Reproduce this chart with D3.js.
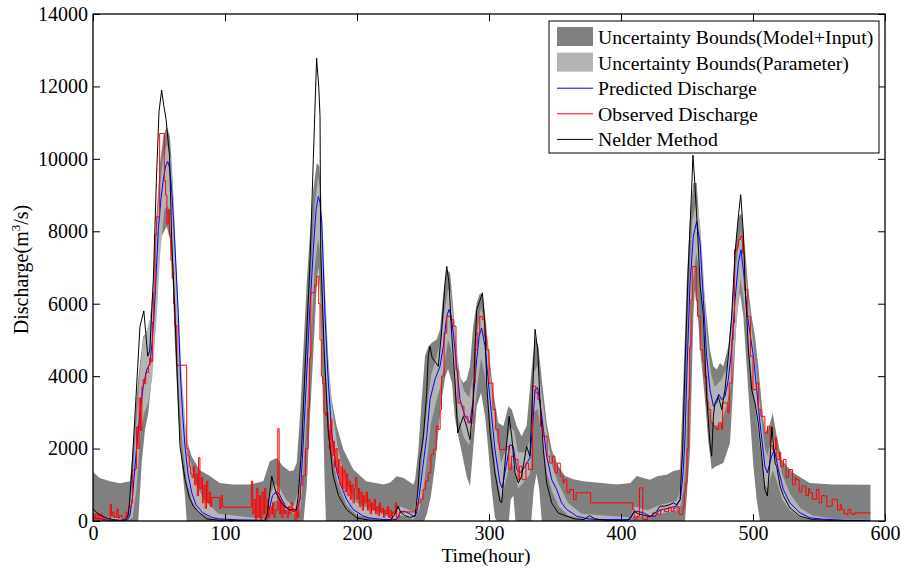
<!DOCTYPE html>
<html>
<head>
<meta charset="utf-8">
<script src="https://cdn.jsdelivr.net/npm/d3@7"></script>
<style>
  body { margin: 0; background: #fff; }
  svg { display: block; font-family: "Liberation Serif", "Times New Roman", serif; }
</style>
</head>
<body>
<svg id="chart" width="901" height="570"></svg>
<script>
// tick labels
const xTicks = [0, 100, 200, 300, 400, 500, 600]
const yTicks = [0, 2000, 4000, 6000, 8000, 10000, 12000, 14000]

// Uncertainty bounds (Model+Input), [hour, m3/s]
const outerHi = [[0,1350],[5,1190],[13,1100],[20.5,1040],[28,1100],[30.5,2065],[33,3445],[35.6,4365],[38.1,5100],[40.6,5190],[43.2,5560],[45.7,6665],[48.2,8505],[50.8,9885],[53.3,10620],[55.8,10900],[58.3,10620],[60.3,9425],[62.1,7585],[63.9,5745],[65.9,4365],[68.4,2985],[71,2250],[74.7,1790],[81,1400],[88.6,1240],[96,1050],[106,1007],[119,1007],[129,1100],[134,1650],[139,1743],[144,1513],[149,1375],[152,1400],[154.3,1605],[156.8,2893],[159.4,4733],[161.9,6573],[164.4,7953],[166.9,9149],[169.5,9885],[171.5,9793],[173.2,8413],[175.8,6113],[178.3,4273],[180.8,3353],[184.6,2617],[189.7,1973],[197.2,1420],[207,1100],[220,1007],[225,1053],[230,1237],[235,1191],[242.7,1007],[244,1140],[246.5,1970],[249,3350],[251.5,4550],[254,4820],[256.6,4920],[260.4,5010],[262.9,5290],[265.4,6300],[268,6940],[270.5,6850],[273,5840],[275.5,4730],[278,3990],[280.6,3810],[283,3900],[285.6,4270],[288,5380],[290.7,6020],[293.2,6300],[295.7,6110],[298.2,5290],[300.8,4370],[303.3,3540],[307,2710],[310.9,2620],[314.7,3170],[317.2,3080],[321,2620],[324.7,2340],[328.5,2620],[332.3,4180],[334.9,5100],[337.4,4820],[340,3900],[343.7,2710],[347.5,1970],[352.5,1510],[357.6,1240],[364,1150],[371.5,1100],[396.7,1010],[407,1050],[412,1240],[417,1190],[422,1140],[428,1240],[434.6,1280],[439.7,1380],[444.7,1420],[447.2,3810],[449.8,6570],[452.3,8410],[454.8,9330],[457.3,9330],[460,7950],[462.4,6570],[464.9,5650],[467.4,4730],[470,4270],[472.5,4180],[475,4360],[477.5,4270],[481.3,4820],[483.8,5650],[486.4,7490],[488.9,8410],[491.4,8500],[494,7490],[496.5,6390],[499,5650],[501.5,5100],[504,4270],[506.6,3260],[509,2430],[512.4,2620],[514.9,2980],[518,2340],[521.7,1700],[526,1500],[530.5,1330],[543,1050],[560,1010],[589,1000]]
const outerLo = [[0,0],[34.3,0],[36.9,1600],[39.4,2525],[41.9,2985],[44.4,3905],[47,5745],[49.5,7125],[52,7860],[55.8,8135],[58.3,7770],[60.3,6665],[62.1,4825],[64.6,2985],[67.2,1605],[69.7,685],[71,0],[159.5,0],[162,1000],[164.4,2900],[167,4700],[169.5,6500],[170.7,7000],[172,6300],[174,3500],[175.5,1000],[176.5,0],[251,0],[253,200],[256,700],[259,1500],[262,2600],[264,3350],[267,4000],[269,4200],[272,3800],[274,2900],[277,2300],[279,1970],[283,1240],[285.6,960],[288,1970],[290.7,3170],[294,3540],[297,2890],[299.5,1970],[302,870],[304.5,100],[306,0],[315,0],[316.5,600],[318.5,700],[320,0],[332,0],[334,900],[336,1300],[338,900],[340,0],[448.5,0],[452.3,1970],[454.8,5650],[456,6390],[458,5800],[460,4730],[463.6,3350],[466,2250],[468.7,1420],[472,1510],[477.5,1600],[482.6,2160],[485.1,3810],[487.6,5650],[490.2,6300],[492.7,5650],[495.2,4270],[497.7,2890],[500.3,1510],[502.8,590],[505.3,0],[589,0]]

// Uncertainty bounds (Parameter)
const parHi = [[0,150],[26,50],[29,700],[32,2200],[35,3900],[38,5000],[41,5300],[44,5700],[47,7200],[50,9000],[53,10000],[56,10400],[59,10000],[61,9000],[63,7200],[65,5600],[67,4200],[70,2700],[73,1800],[77,1100],[84,600],[95,200],[130,60],[134,700],[137,1000],[141,950],[146,600],[152,400],[156,900],[159,2600],[162,4600],[165,6800],[168,8700],[170.5,9500],[173,9000],[175.5,6700],[178,4700],[181,3200],[185,2100],[192,1000],[200,500],[225,100],[233,400],[243,250],[247,900],[250,2000],[253,3100],[256,4000],[260,4500],[263,4900],[266,5700],[269,6400],[271,6300],[274,5300],[277,4200],[281,3600],[285,3400],[288,4000],[291,5200],[294,5900],[297,5400],[301,4000],[305,2600],[309,1600],[312,1900],[316,2600],[319,2500],[322,1900],[327,1900],[331,2200],[334,4100],[337,4300],[340,3500],[344,2400],[348,1500],[353,1000],[360,500],[370,200],[407,100],[410,400],[420,300],[430,450],[442,550],[445,900],[447,1900],[449,3600],[451,6000],[454,8300],[457,8800],[460,8200],[462.5,6800],[465,5200],[468,4100],[471,3700],[476,3900],[480,4200],[484,5400],[487,7000],[490.5,8000],[493,7300],[496,6300],[499,5300],[502,4300],[505,3300],[509,2000],[511,1800],[515,2400],[518,2000],[522,1300],[528,750],[536,350],[545,150],[560,60],[589,30]]
const parLo = [[0,50],[26,0],[30,100],[33,900],[36,2500],[39,3000],[42,3300],[45,4000],[48,5500],[51,7400],[54,8600],[57,8700],[60,7600],[62,6200],[64,4400],[66,3000],[68,2000],[71,1100],[75,550],[80,250],[90,60],[130,0],[134,250],[137,550],[141,550],[146,300],[152,200],[157,300],[159,1200],[162,3000],[165,5000],[168,7000],[170.5,7800],[173,7200],[175.5,4700],[178,3000],[181,1900],[185,1100],[192,450],[200,150],[225,0],[233,150],[243,50],[247,300],[250,800],[253,1700],[256,2700],[260,3300],[263,3700],[266,4300],[269,5000],[271,4800],[274,4000],[277,2800],[281,2300],[285,2100],[288,2700],[291,3700],[294,4500],[297,4000],[301,2800],[305,1400],[309,600],[312,1000],[316,1600],[319,1500],[322,900],[327,1100],[331,1300],[334,3000],[337,3100],[340,2300],[344,1300],[348,800],[353,400],[360,150],[370,50],[407,0],[410,150],[420,100],[430,200],[442,300],[445,400],[447,800],[449,1500],[451,3500],[454,6500],[457,7400],[460,6800],[462.5,5300],[465,3800],[468,2800],[471,2600],[476,2700],[480,3200],[484,3900],[487,5200],[490.5,6700],[493,6100],[496,5000],[499,4000],[502,3000],[505,2100],[509,1000],[511,900],[515,1400],[518,1100],[522,600],[528,300],[536,100],[545,30],[560,0],[589,0]]

// Predicted discharge
const predicted = [[0,100],[5,60],[10,30],[15,15],[20,10],[26,20],[28,150],[30,700],[31,1150],[33,2000],[35.6,2990],[38,3700],[40.7,4180],[43,4330],[45,5000],[47,6200],[49.5,8050],[51.5,8900],[53.3,9430],[55,9800],[56.6,9930],[58,9750],[59.6,9150],[61,8300],[62.1,7580],[64.6,5750],[66.4,3900],[68,2900],[69.7,2060],[72,1300],[74.8,780],[78,450],[83,230],[90,100],[95,60],[110,30],[130,20],[132,100],[134,400],[136,700],[138,780],[141,760],[143,600],[146,400],[150,300],[153,250],[155,350],[156.8,600],[159,1970],[161.6,3820],[164,5650],[166.9,7490],[169,8600],[170.7,8960],[172,8800],[173.3,8240],[175.8,5650],[178.3,3820],[180.8,2440],[184,1500],[187,1060],[192,600],[197,320],[205,130],[210,80],[220,40],[230,40],[233,250],[236,270],[240,200],[243,130],[245,200],[246.5,500],[249,1240],[252.8,2340],[255.3,3350],[259,3900],[262.9,4270],[265.4,4825],[268,5650],[269.7,5840],[271,5700],[273,5190],[275.5,4270],[278,3350],[281.8,2890],[285.6,2710],[288,3350],[290.7,4460],[292.5,5100],[294.4,5330],[297,4825],[300.8,3350],[304.5,1970],[308.3,1050],[310,915],[313.4,1600],[315.9,2110],[318.4,2060],[321,1420],[323.5,1330],[327.3,1510],[331,1740],[333,2600],[334.9,3630],[336.9,3680],[340,2890],[343.7,1790],[347.5,1140],[351.3,870],[355,500],[358.9,320],[366.5,130],[375,60],[384,40],[407,40],[409.4,225],[412,270],[417,225],[422,130],[426,130],[428,270],[432,320],[437,360],[442,410],[445,600],[447,1300],[448.5,2300],[450,4200],[452.3,6570],[454.8,7860],[457.3,8270],[459.9,7680],[462.4,6110],[464.9,4550],[467.4,3630],[470,3170],[472.5,3260],[474,3500],[475,3440],[476.3,3350],[478.8,3440],[481.3,3900],[483.8,4730],[486.4,6110],[488.9,7130],[490.9,7490],[493.2,6760],[495.2,5840],[497.7,5190],[500.3,4550],[502.8,3630],[505.3,2710],[509,1510],[510.9,1330],[514.1,1790],[516.2,1970],[519.2,1420],[523,870],[528,500],[535.6,225],[543,90],[553,50],[570,20],[589,10]]

// Observed discharge (stepped record)
const observed = [[0,150],[1,50],[2,200],[3,0],[4,180],[5,60],[6,200],[7,20],[8,100],[9,60],[11,30],[13,450],[14,150],[15,250],[16,100],[18,330],[19,80],[20,150],[22,40],[24,80],[25,250],[26,120],[27,400],[28,380],[29,500],[30,1400],[32,1450],[33,2600],[34,2000],[35,3400],[36,2500],[37,3700],[38,3900],[39,3800],[40,4100],[42,4300],[43,4500],[44,4400],[45,5500],[46,6300],[47,7900],[48,8400],[50.5,10700],[54,9400],[55,9000],[56,8200],[57,8600],[58,7900],[59,7200],[60,6700],[61,6000],[62,5400],[63.5,4300],[71,2000],[72,1800],[73,1500],[74,1300],[75,1200],[76,1500],[77,1000],[78,1300],[79,700],[80,1750],[81,900],[82,1200],[83,500],[84,1000],[85,350],[86,1100],[87,500],[88,800],[89,400],[90,650],[96,350],[97,700],[98,400],[99,380],[120,1100],[121,200],[122,600],[123,0],[124,900],[125,100],[126,700],[127,0],[128,800],[129,200],[130,900],[131,0],[132,600],[133,100],[134,400],[135,200],[136,500],[137,100],[138,300],[140,2550],[141,200],[142,600],[143,100],[144,500],[145,200],[146,300],[147,100],[148,400],[149,200],[150,500],[151,250],[152,300],[153,0],[154,400],[155,100],[156,600],[157,1000],[159,1250],[161,2000],[163,3100],[164,4500],[165,6300],[168,6500],[169.5,6760],[171,6000],[172,5000],[173,4000],[174,3800],[175,3000],[176,2900],[177,3000],[178,2500],[179,2000],[180,2800],[181,1800],[182,2200],[183,1500],[184,2000],[185,1300],[186,1700],[187,1000],[188,1500],[189,900],[190,1400],[191,800],[192,1300],[193,700],[194,1100],[195,600],[196,1000],[197,500],[198,900],[199,1200],[200,600],[201,900],[202,400],[203,800],[204,300],[205,700],[206,500],[207,800],[208,300],[209,600],[210,200],[211,500],[212,300],[213,600],[214,200],[215,400],[216,150],[217,500],[218,250],[219,350],[220,100],[221,300],[222,200],[223,400],[224,100],[225,300],[226,0],[227,250],[228,200],[229,500],[230,100],[232,250],[244,320],[246,500],[248,600],[250,870],[252,1100],[254,1330],[256,1840],[258,1970],[260,2620],[261.5,2530],[263,3080],[264,4000],[266,5190],[268,5650],[271,5560],[273,5380],[275,4180],[276.5,3260],[279,3170],[281,2890],[284,2710],[288,3810],[289.5,4730],[291,5190],[293,5650],[295,5560],[296.5,5100],[298,4730],[300,3810],[303,3080],[305,2530],[307,2160],[308,1970],[313,2060],[315,1420],[317,1790],[319,1700],[322,1140],[323,1510],[325,1140],[328,1600],[330,1420],[333,3720],[335.5,3540],[337,3350],[339,2620],[341,2340],[344,1790],[346,1600],[348,1790],[350,1330],[352,1600],[354,1240],[356,1050],[357,1140],[359,780],[361,870],[364,590],[366,780],[377,500],[409,320],[410,40],[412,130],[414,915],[416.5,40],[420,130],[424,225],[428,180],[430,320],[433,260],[436,380],[438,270],[440,360],[443,400],[444,180],[447,410],[448,780],[449,1050],[450,2000],[451,3350],[452,4800],[453,6110],[454,7030],[457,6110],[458,5650],[460,4730],[462,4400],[463,4000],[465,3300],[466,3080],[468,2710],[470,2620],[472,2530],[474,2710],[476,2530],[477,3260],[480,3260],[481,2985],[482,3810],[484,5000],[485,5470],[486,7490],[488,7590],[489,7770],[490.5,7860],[492,7400],[493.5,6390],[496,5650],[498,4550],[500,3630],[502.5,3810],[504,3080],[506,2890],[509,2430],[511,2620],[513,2070],[515,1970],[517,2300],[518,1700],[520,1900],[521,1500],[523,1700],[525,1200],[527,1420],[530,1000],[532,1200],[533,1140],[535,800],[537,960],[540,700],[542,900],[543,780],[545,600],[548,870],[550,500],[552,700],[554,690],[556,400],[558,410],[560,600],[562,590],[564,300],[566,450],[567,320],[569,200],[571,180],[572,320],[574,200],[576,180],[577,225],[589,225]]

// Nelder method
const nelder = [[0,330],[3,230],[6,150],[10,90],[15,40],[20,20],[25,30],[27,200],[29.3,1340],[32.6,3445],[35.6,5380],[38.5,5800],[41.5,4550],[43,4700],[45.7,6660],[48,9400],[50,11300],[52,11900],[53.5,11500],[55.4,11080],[58,10070],[59.6,7800],[62,5750],[63.9,3900],[65.9,2060],[69.7,1150],[73,650],[76,410],[80,250],[86,60],[95,20],[130,10],[132,200],[134,800],[135.4,1240],[137,1000],[139,750],[142,550],[145,400],[149,300],[152,330],[154,300],[155.5,700],[158,1970],[160.6,4180],[164.4,7130],[166.9,9980],[169.4,12780],[171,12000],[172,11170],[172.5,7500],[175,4800],[178.3,2440],[182,1240],[186,700],[192,320],[200,80],[210,20],[225,10],[229,200],[231,410],[233,250],[236,150],[240,100],[244,130],[246,800],[247.7,1700],[250.3,2340],[252.8,3540],[254,4550],[255.3,4825],[257,4500],[259,4410],[261.6,4270],[264,5190],[266.7,6570],[268,7030],[269.7,6570],[271.7,5190],[274.3,3810],[276.3,2430],[278.8,2710],[280.6,2890],[283,2620],[285.6,2250],[288,3260],[289.4,4730],[290.7,5840],[293,6070],[295,6300],[297,5380],[298.2,3810],[300.8,2430],[304.5,1330],[308.3,550],[309.6,500],[312.1,1600],[315.2,2890],[317.2,2340],[319.7,1330],[322.2,1050],[324.7,1240],[328.5,2060],[331,1790],[332.8,3350],[334.9,5290],[336.9,4730],[338.6,3350],[341.2,1970],[343.7,1050],[347.5,500],[352.5,220],[357.6,150],[365,60],[372,40],[376,150],[380,60],[390,10],[405,10],[408,150],[410,270],[413,200],[418,150],[422,120],[425,200],[427,270],[429.6,410],[433,410],[437,450],[439.7,500],[442,450],[444.7,590],[446.7,1970],[448.5,4270],[451,7030],[453.5,9150],[454.5,10100],[456,9300],[458,8000],[460,6500],[462.4,5650],[464.9,3440],[467.4,2150],[468.7,1790],[470,2890],[471.2,3260],[473.7,3440],[475,3260],[476.3,3080],[478.8,3630],[481.3,4550],[483.8,5650],[486.4,7400],[488.9,8410],[490.7,9010],[492.7,7950],[494,6570],[496.5,4730],[499,3630],[501.5,3260],[504,2710],[506.6,1790],[509,870],[510.9,690],[512.9,1700],[514.3,2600],[516.7,1600],[518,1500],[520.5,960],[523,700],[528,360],[535.6,130],[545,40],[560,10],[585,0]]

const legendLabels = ["Uncertainty Bounds(Model+Input)", "Uncertainty Bounds(Parameter)", "Predicted Discharge", "Observed Discharge", "Nelder Method"]

const margin = {top: 14, right: 16, bottom: 49, left: 93}
const width = 901 - margin.left - margin.right
const height = 570 - margin.top - margin.bottom

const svg = d3.select('#chart')
const g = svg.append("g").attr("transform", "translate(" + margin.left + "," + margin.top + ")")

const x = d3.scaleLinear().domain([0, 600]).range([0, width])
const y = d3.scaleLinear().domain([0, 14000]).range([height, 0])

g.append("clipPath").attr("id", "plotclip")
  .append("rect").attr("width", width).attr("height", height)

const plot = g.append("g").attr("clip-path", "url(#plotclip)")

const line = d3.line().x(function(d) { return x(d[0]) }).y(function(d) { return y(d[1]) })

// band = upper edge forward, lower edge back
function band(hi, lo) {
  return line(hi.concat(lo.slice().reverse())) + "Z"
}

plot.append("path").attr("d", band(outerHi, outerLo)).attr("fill", "#808080")
plot.append("path").attr("d", band(parHi, parLo)).attr("fill", "#b4b4b4")

plot.append("path").datum(predicted)
  .attr("d", line).attr("fill", "none").attr("stroke", "#0000ff").attr("stroke-width", 1)

plot.append("path").datum(observed)
  .attr("d", d3.line().curve(d3.curveStepAfter).x(function(d) { return x(d[0]) }).y(function(d) { return y(d[1]) }))
  .attr("fill", "none").attr("stroke", "#ff0000").attr("stroke-width", 1)

plot.append("path").datum(nelder)
  .attr("d", line).attr("fill", "none").attr("stroke", "#000").attr("stroke-width", 1)

// axes, ticks pointing in on all four sides
function styleAxis(sel) {
  sel.select(".domain").remove()
  sel.selectAll(".tick line").attr("stroke", "#000")
  sel.selectAll("text").attr("font-size", "20px").attr("fill", "#000")
    .attr("font-family", "'Liberation Serif', 'Times New Roman', serif")
}

g.append("g").attr("transform", "translate(0," + height + ")")
  .call(d3.axisBottom(x).tickValues(xTicks).tickFormat(d3.format("d")).tickSizeInner(-7).tickSizeOuter(0).tickPadding(5))
  .call(styleAxis)

g.append("g")
  .call(d3.axisLeft(y).tickValues(yTicks).tickFormat(d3.format("d")).tickSizeInner(-7).tickSizeOuter(0).tickPadding(5))
  .call(styleAxis)

g.append("g")
  .call(d3.axisTop(x).tickValues(xTicks).tickFormat("").tickSizeInner(-7).tickSizeOuter(0))
  .call(styleAxis)

g.append("g").attr("transform", "translate(" + width + ",0)")
  .call(d3.axisRight(y).tickValues(yTicks).tickFormat("").tickSizeInner(-7).tickSizeOuter(0))
  .call(styleAxis)

g.append("rect").attr("width", width).attr("height", height)
  .attr("fill", "none").attr("stroke", "#000").attr("stroke-width", 1.3)

// axis titles
g.append("text")
  .attr("x", width / 2 - 3).attr("y", height + 41)
  .attr("text-anchor", "middle").attr("font-size", "19.5px")
  .text("Time(hour)")

const yl = g.append("text")
  .attr("transform", "translate(-65," + (height / 2 + 2) + ") rotate(-90)")
  .attr("text-anchor", "middle").attr("font-size", "20px")
yl.append("tspan").text("Discharge(m")
yl.append("tspan").attr("dy", -8).attr("font-size", "13px").text("3")
yl.append("tspan").attr("dy", 8).text("/s)")

// legend
const lg = svg.append("g").attr("transform", "translate(549,21)")
lg.append("rect").attr("width", 330).attr("height", 132)
  .attr("fill", "#fff").attr("stroke", "#000").attr("stroke-width", 1)

const rowY = function(i) { return 16 + i * 25.6 }
lg.append("rect").attr("x", 8).attr("y", rowY(0) - 10).attr("width", 36).attr("height", 19).attr("fill", "#808080")
lg.append("rect").attr("x", 8).attr("y", rowY(1) - 10).attr("width", 36).attr("height", 19).attr("fill", "#b4b4b4")
const legendColors = ["#0000ff", "#ff0000", "#000000"]
legendColors.forEach(function(c, i) {
  lg.append("line").attr("x1", 8).attr("x2", 44).attr("y1", rowY(i + 2)).attr("y2", rowY(i + 2))
    .attr("stroke", c).attr("stroke-width", 1)
})
lg.selectAll("text.lab").data(legendLabels).enter().append("text")
  .attr("class", "lab")
  .attr("x", 49).attr("y", function(d, i) { return rowY(i) + 7 })
  .attr("font-size", "19.7px")
  .text(function(d) { return d })
</script>
</body>
</html>
